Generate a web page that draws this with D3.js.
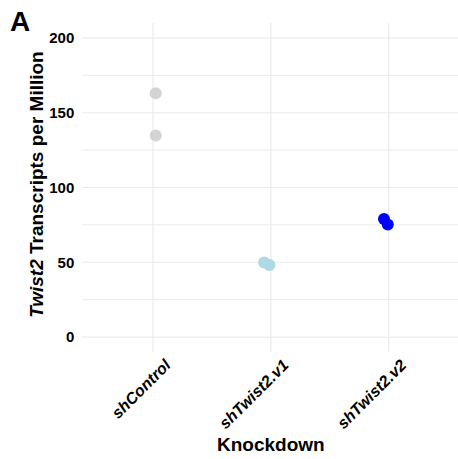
<!DOCTYPE html>
<html>
<head>
<meta charset="utf-8">
<script src="https://cdn.jsdelivr.net/npm/d3@7"></script>
<style>
  html, body { margin: 0; padding: 0; background: #fff; }
  svg { display: block; font-family: "Liberation Sans", Arial, Helvetica, sans-serif; }
</style>
</head>
<body>
<svg id="chart" width="458" height="459"></svg>
<script>
// ---- data ----
const categories = ["shControl", "shTwist2.v1", "shTwist2.v2"];
const groupColors = ["#d3d3d3", "#add8e6", "#0000ff"];
const sampleGroup = ["shControl", "shControl", "shTwist2.v1", "shTwist2.v1", "shTwist2.v2", "shTwist2.v2"];
const tpmValues = [163.1, 134.7, 49.8, 48.2, 78.9, 75.3];
const jitterOffsets = [0.023, 0.023, -0.057, -0.012, -0.04, -0.008]; // in category units
const yMajorTicks = [0, 50, 100, 150, 200];
const yMinorTicks = [25, 75, 125, 175];
const yLimits = [0, 200];

// ---- layout ----
const svg = d3.select("#chart");
const panel = { left: 82.3, right: 459.4, top: 23, bottom: 352 };

const x = d3.scalePoint().domain(categories).range([panel.left, panel.right]).padding(0.6);
const step = x.step();
const pad = (yLimits[1] - yLimits[0]) * 0.05;
const y = d3.scaleLinear().domain([yLimits[0] - pad, yLimits[1] + pad]).range([panel.bottom, panel.top]);
const color = d3.scaleOrdinal().domain(categories).range(groupColors);

const grid = svg.append("g");
grid.selectAll("line.minor").data(yMinorTicks).join("line")
  .attr("x1", panel.left).attr("x2", panel.right)
  .attr("y1", d => y(d)).attr("y2", d => y(d))
  .attr("stroke", "#ebebeb").attr("stroke-width", 1);
grid.selectAll("line.major").data(yMajorTicks).join("line")
  .attr("x1", panel.left).attr("x2", panel.right)
  .attr("y1", d => y(d)).attr("y2", d => y(d))
  .attr("stroke", "#ebebeb").attr("stroke-width", 1.2);
grid.selectAll("line.vx").data(categories).join("line")
  .attr("x1", d => x(d)).attr("x2", d => x(d))
  .attr("y1", panel.top).attr("y2", panel.bottom)
  .attr("stroke", "#ebebeb").attr("stroke-width", 1.2);

// y axis labels
const yAxis = d3.axisLeft(y).tickValues(yMajorTicks).tickSize(0).tickPadding(8);
const gy = svg.append("g").attr("transform", `translate(${panel.left},0)`).call(yAxis);
gy.select(".domain").remove();
gy.selectAll("text").attr("font-size", 15).attr("font-weight", "bold").attr("fill", "#000")
  .attr("font-family", "Liberation Sans, Arial, sans-serif");

// x axis labels
const xAxis = d3.axisBottom(x).tickSize(0).tickPadding(0);
const gx = svg.append("g").attr("transform", `translate(0,${panel.bottom})`).call(xAxis);
gx.select(".domain").remove();
gx.selectAll("text")
  .attr("font-size", 16).attr("font-weight", "bold").attr("font-style", "italic").attr("fill", "#000")
  .attr("font-family", "Liberation Sans, Arial, sans-serif")
  .attr("text-anchor", "end")
  .attr("x", 0).attr("y", 0).attr("dy", "0.72em")
  .attr("transform", "translate(10,6) rotate(-45)");

// points
const pts = tpmValues.map((v, i) => ({ g: sampleGroup[i], v, j: jitterOffsets[i] }));
svg.append("g").selectAll("circle").data(pts).join("circle")
  .attr("cx", d => x(d.g) + d.j * step)
  .attr("cy", d => y(d.v))
  .attr("r", 6)
  .attr("fill", d => color(d.g));

// titles
svg.append("text")
  .attr("x", (panel.left + panel.right) / 2).attr("y", 451)
  .attr("text-anchor", "middle").attr("font-size", 19).attr("font-weight", "bold")
  .text("Knockdown");

const yt = svg.append("text")
  .attr("transform", `translate(43,${(panel.top + panel.bottom) / 2 - 3}) rotate(-90)`)
  .attr("text-anchor", "middle").attr("font-size", 19).attr("font-weight", "bold");
yt.append("tspan").attr("font-style", "italic").text("Twist2");
yt.append("tspan").text(" Transcripts per Million");

svg.append("text").attr("x", 10).attr("y", 31)
  .attr("font-size", 28).attr("font-weight", "bold").text("A");
</script>
</body>
</html>
